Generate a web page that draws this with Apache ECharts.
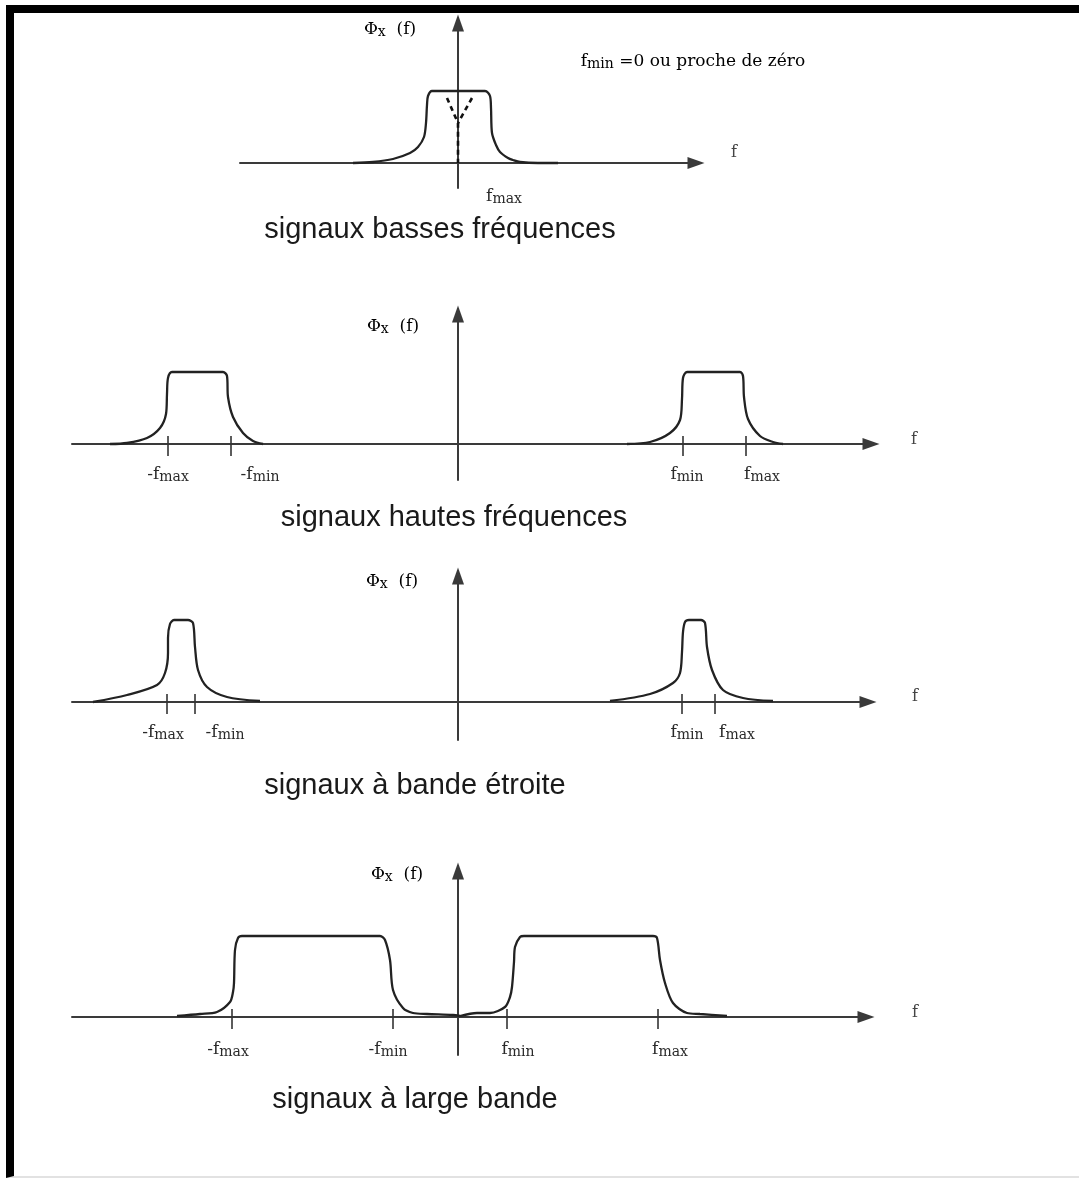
<!DOCTYPE html>
<html>
<head>
<meta charset="utf-8">
<title>Spectres de signaux</title>
<script src="https://cdn.jsdelivr.net/npm/echarts@6/dist/echarts.min.js"></script>
<style>
html, body { margin:0; padding:0; background:#fff; }
#main { position:absolute; left:0; top:0; width:1079px; height:1178px; }
#cadre { position:absolute; left:6px; top:5px; right:0; bottom:0; border-left:8px solid #000; border-top:8px solid #000; border-bottom:2px solid #e2e2e2; pointer-events:none; }
</style>
</head>
<body>
<div id="main"></div>
<div id="cadre"></div>
<script>
// x = frequence (0 sur l'axe vertical), y = amplitude
var basseBande = [[-105,0],[-85,1],[-65,4],[-48,10],[-40,16],[-34,26],[-32,40],[-31,58],[-30,67],[-26,72],[27,72],[32,67],[33,55],[34,30],[38,18],[42,11],[50,5],[55,3],[62,1],[80,0],[100,0]];
var basseTiretsV = [[-11,65],[0,40],[0,0]];
var basseTiretsD = [[14,65],[0,40]];
var basseLabelPos = [46];
var basseLabels = ['fmax'];

var hauteGauche = [[-348,0],[-331,1],[-311,6],[-298,16],[-292,30],[-291,50],[-290,66],[-286,72],[-235,72],[-231,68],[-230,47],[-225,27],[-215,11],[-205,3],[-195,0]];
var hauteDroite = [[169,0],[192,2],[212,11],[222,24],[224,45],[225,66],[229,72],[282,72],[285,68],[286,47],[290,25],[302,8],[315,2],[325,0]];
var hauteTicks = [-290, -227, 225, 288];
var hauteLabelPos = [-290, -198, 229, 304];
var hauteLabels = ['-fmax', '-fmin', 'fmin', 'fmax'];

var etroiteGauche = [[-365,0],[-331,7],[-301,17],[-293,29],[-290,49],[-290,64],[-288,78],[-284,82],[-270,82],[-265,79],[-263,55],[-260,32],[-251,15],[-231,5],[-198,1]];
var etroiteDroite = [[152,1],[192,8],[215,19],[222,29],[224,50],[225,70],[227,80],[231,82],[243,82],[247,79],[249,55],[254,32],[265,12],[285,4],[315,1]];
var etroiteTicks = [-291, -263, 224, 257];
var etroiteLabelPos = [-295, -233, 229, 279];
var etroiteLabels = ['-fmax', '-fmin', 'fmin', 'fmax'];

var largeGauche = [[-281,1],[-258,3],[-241,5],[-228,15],[-225,25],[-224,34],[-223,67],[-220,79],[-216,81],[-78,81],[-73,77],[-68,57],[-65,27],[-55,9],[-45,4],[-31,3],[-5,2],[2,1]];
var largeDroite = [[2,1],[19,4],[32,4],[47,10],[52,20],[54,30],[56,55],[57,70],[62,80],[66,81],[195,81],[199,79],[202,57],[207,34],[215,14],[229,4],[242,3],[269,1]];
var largeTicks = [-226, -65, 49, 200];
var largeLabelPos = [-230, -70, 60, 212];
var largeLabels = ['-fmax', '-fmin', 'fmin', 'fmax'];

var titres = ['signaux basses fréquences', 'signaux hautes fréquences', 'signaux à bande étroite', 'signaux à large bande'];

var serif = '"DejaVu Serif", "Liberation Serif", serif';
var richTxt = {
  f: { fontFamily: serif, fontSize: 17, color: '#2a2a2a', lineHeight: 18, verticalAlign: 'top' },
  s: { fontFamily: serif, fontSize: 14, color: '#2a2a2a', lineHeight: 14, padding: [7,0,0,0], verticalAlign: 'bottom' }
};

function etiquette(nom) {
  var signe = nom.charAt(0) == '-' ? '-' : '';
  return '{f|' + signe + 'f}{s|' + nom.slice(-3) + '}';
}

var axeStyle = { color: '#3a3a3a', width: 2 };

// les etiquettes restent sur le bord bas de la grille, d'ou la marge
function axeX(idx, min, max, gap, haut, marge, pos, noms) {
  return {
    type: 'value', gridIndex: idx, min: min, max: max,
    name: 'f', nameLocation: 'end', nameGap: gap,
    nameTextStyle: { fontFamily: serif, fontSize: 16, color: '#444', verticalAlign: 'bottom', lineHeight: haut },
    axisLine: { onZero: true, symbol: ['none', 'triangle'], symbolSize: [12, 17], lineStyle: axeStyle },
    axisTick: { show: false },
    splitLine: { show: false },
    axisLabel: {
      show: pos.length > 0, customValues: pos, margin: marge, rich: richTxt,
      formatter: function (v) { return etiquette(noms[pos.indexOf(v)]); }
    }
  };
}

function axeY(idx, min, max) {
  return {
    type: 'value', gridIndex: idx, min: min, max: max,
    axisLine: { onZero: true, symbol: ['none', 'triangle'], symbolSize: [12, 17], lineStyle: axeStyle },
    axisTick: { show: false },
    splitLine: { show: false },
    axisLabel: { show: false }
  };
}

function courbe(idx, data) {
  return {
    type: 'line', xAxisIndex: idx, yAxisIndex: idx, data: data,
    smooth: 0.3, showSymbol: false, symbol: 'none', silent: true, z: 3,
    lineStyle: { color: '#222', width: 2.3 }
  };
}

function tirets(idx, data) {
  return {
    type: 'line', xAxisIndex: idx, yAxisIndex: idx, data: data,
    showSymbol: false, symbol: 'none', silent: true, z: 5,
    lineStyle: { color: '#111', width: 2.6, type: [5, 4] }
  };
}

function graduations(idx, ticks) {
  return {
    type: 'scatter', xAxisIndex: idx, yAxisIndex: idx, silent: true, z: 4,
    symbol: 'rect', symbolSize: [2, 20],
    itemStyle: { color: '#333' },
    data: ticks.map(function (t) { return [t, -2]; })
  };
}

function texte(x, y, txt) {
  return { type: 'text', x: x, y: y, silent: true,
    style: { text: txt, rich: richTxt, align: 'center', verticalAlign: 'middle' } };
}

function titre(x, y, txt) {
  return { type: 'text', x: x, y: y, silent: true,
    style: { text: txt, fontFamily: '"Liberation Sans", Arial, sans-serif', fontSize: 29, fill: '#1a1a1a', align: 'center', verticalAlign: 'middle' } };
}

var phi = '{f|Φ}{s|x}{f|  (f)}';

var myChart = echarts.init(document.getElementById('main'));
myChart.setOption({
  animation: false,
  backgroundColor: '#fff',
  grid: [
    { left: 240, top: 23, width: 456, height: 165, outerBoundsMode: 'none' },
    { left: 72, top: 314, width: 799, height: 166, outerBoundsMode: 'none' },
    { left: 72, top: 576, width: 796, height: 164, outerBoundsMode: 'none' },
    { left: 72, top: 871, width: 794, height: 184, outerBoundsMode: 'none' }
  ],
  xAxis: [
    axeX(0, -218, 238, 35, 20, 0, basseLabelPos, basseLabels),
    axeX(1, -386, 413, 40, 8, -14, hauteLabelPos, hauteLabels),
    axeX(2, -386, 410, 44, 10, -16, etroiteLabelPos, etroiteLabels),
    axeX(3, -386, 408, 46, 8, -14, largeLabelPos, largeLabels)
  ],
  yAxis: [
    axeY(0, -25, 140),
    axeY(1, -36, 130),
    axeY(2, -38, 126),
    axeY(3, -38, 146)
  ],
  series: [
    courbe(0, basseBande),
    tirets(0, basseTiretsV),
    tirets(0, basseTiretsD),
    courbe(1, hauteGauche),
    courbe(1, hauteDroite),
    graduations(1, hauteTicks),
    courbe(2, etroiteGauche),
    courbe(2, etroiteDroite),
    graduations(2, etroiteTicks),
    courbe(3, largeGauche),
    courbe(3, largeDroite),
    graduations(3, largeTicks)
  ],
  graphic: [
    texte(390, 30, phi),
    texte(693, 62, '{f|f}{s|min}{f| =0 ou proche de zéro}'),
    texte(393, 327, phi),
    texte(392, 582, phi),
    texte(397, 875, phi),
    titre(440, 230, titres[0]),
    titre(454, 518, titres[1]),
    titre(415, 786, titres[2]),
    titre(415, 1100, titres[3])
  ]
});
</script>
</body>
</html>
